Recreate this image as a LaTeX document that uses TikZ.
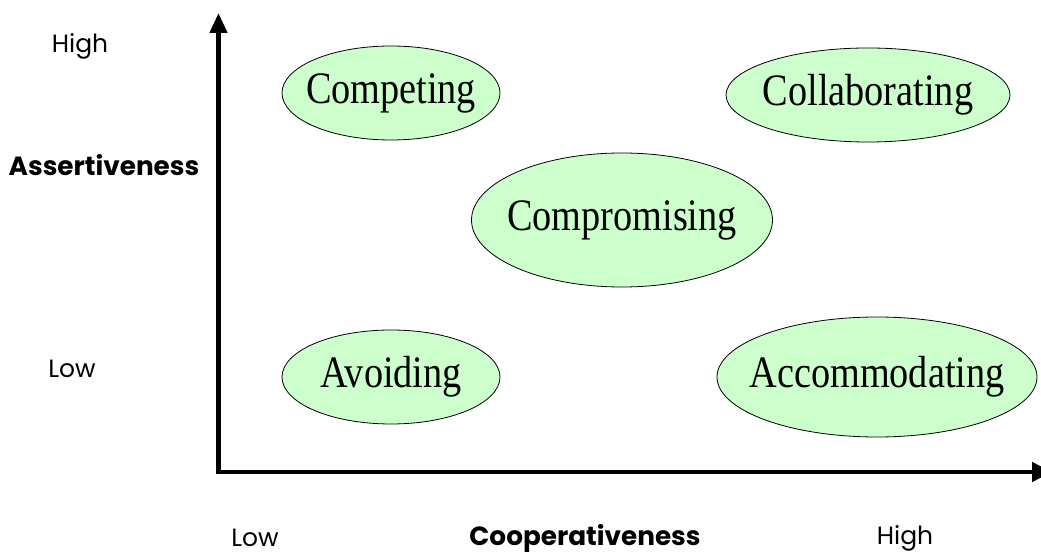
\documentclass[tikz,border=0pt]{standalone}
\usepackage{fontspec}
\usetikzlibrary{shapes.geometric,arrows.meta}
\setmainfont{Liberation Serif}
\newfontfamily\labelfont{Poppins}
\newfontfamily\modefont[FakeStretch=0.85]{Liberation Serif}
\begin{document}
\begin{tikzpicture}[x=1pt,y=1pt,
  mode/.style={ellipse, draw=black, line width=0.8pt, fill=modefill,
    inner sep=0pt, label={[modetext]center:#1}},
  modetext/.style={inner sep=0pt, font=\modefont\fontsize{45}{50}\selectfont},
  level/.style={font=\labelfont\fontsize{25}{30}\selectfont},
  axisname/.style={font=\labelfont\bfseries\fontsize{26.3}{32}\selectfont},
  axis/.style={line width=4.5pt, line join=miter,
    {Triangle[length=20pt,width=17pt]}-{Triangle[length=20pt,width=19pt]}}]
\definecolor{modefill}{HTML}{CCFFCC}
\useasboundingbox (0,0) rectangle (1041,559);

% axes
\coordinate (origin) at (218.5,87);
\coordinate (ytip) at (218.5,546);
\coordinate (xtip) at (1052,87);
\draw[axis] (ytip) -- (origin) -- (xtip);

% conflict-handling modes
\node[mode=Competing, minimum width=218, minimum height=94] (competing) at (391,466) {};
\node[mode=Collaborating, minimum width=284, minimum height=94] (collaborating) at (868,464) {};
\node[mode=Compromising, minimum width=301, minimum height=134] (compromising) at (622,339) {};
\node[mode=Avoiding, minimum width=218, minimum height=94] (avoiding) at (391,182) {};
\node[mode=Accommodating, minimum width=320, minimum height=120] (accommodating) at (877,182) {};

% axis labels
\node[level] (yhigh) at (80,513) {High};
\node[axisname] (yname) at (104,394) {Assertiveness};
\node[level] (ylow) at (72,190) {Low};
\node[level] (xlow) at (255,21) {Low};
\node[axisname] (xname) at (585,21) {Cooperativeness};
\node[level] (xhigh) at (905,21) {High};
\end{tikzpicture}
\end{document}
